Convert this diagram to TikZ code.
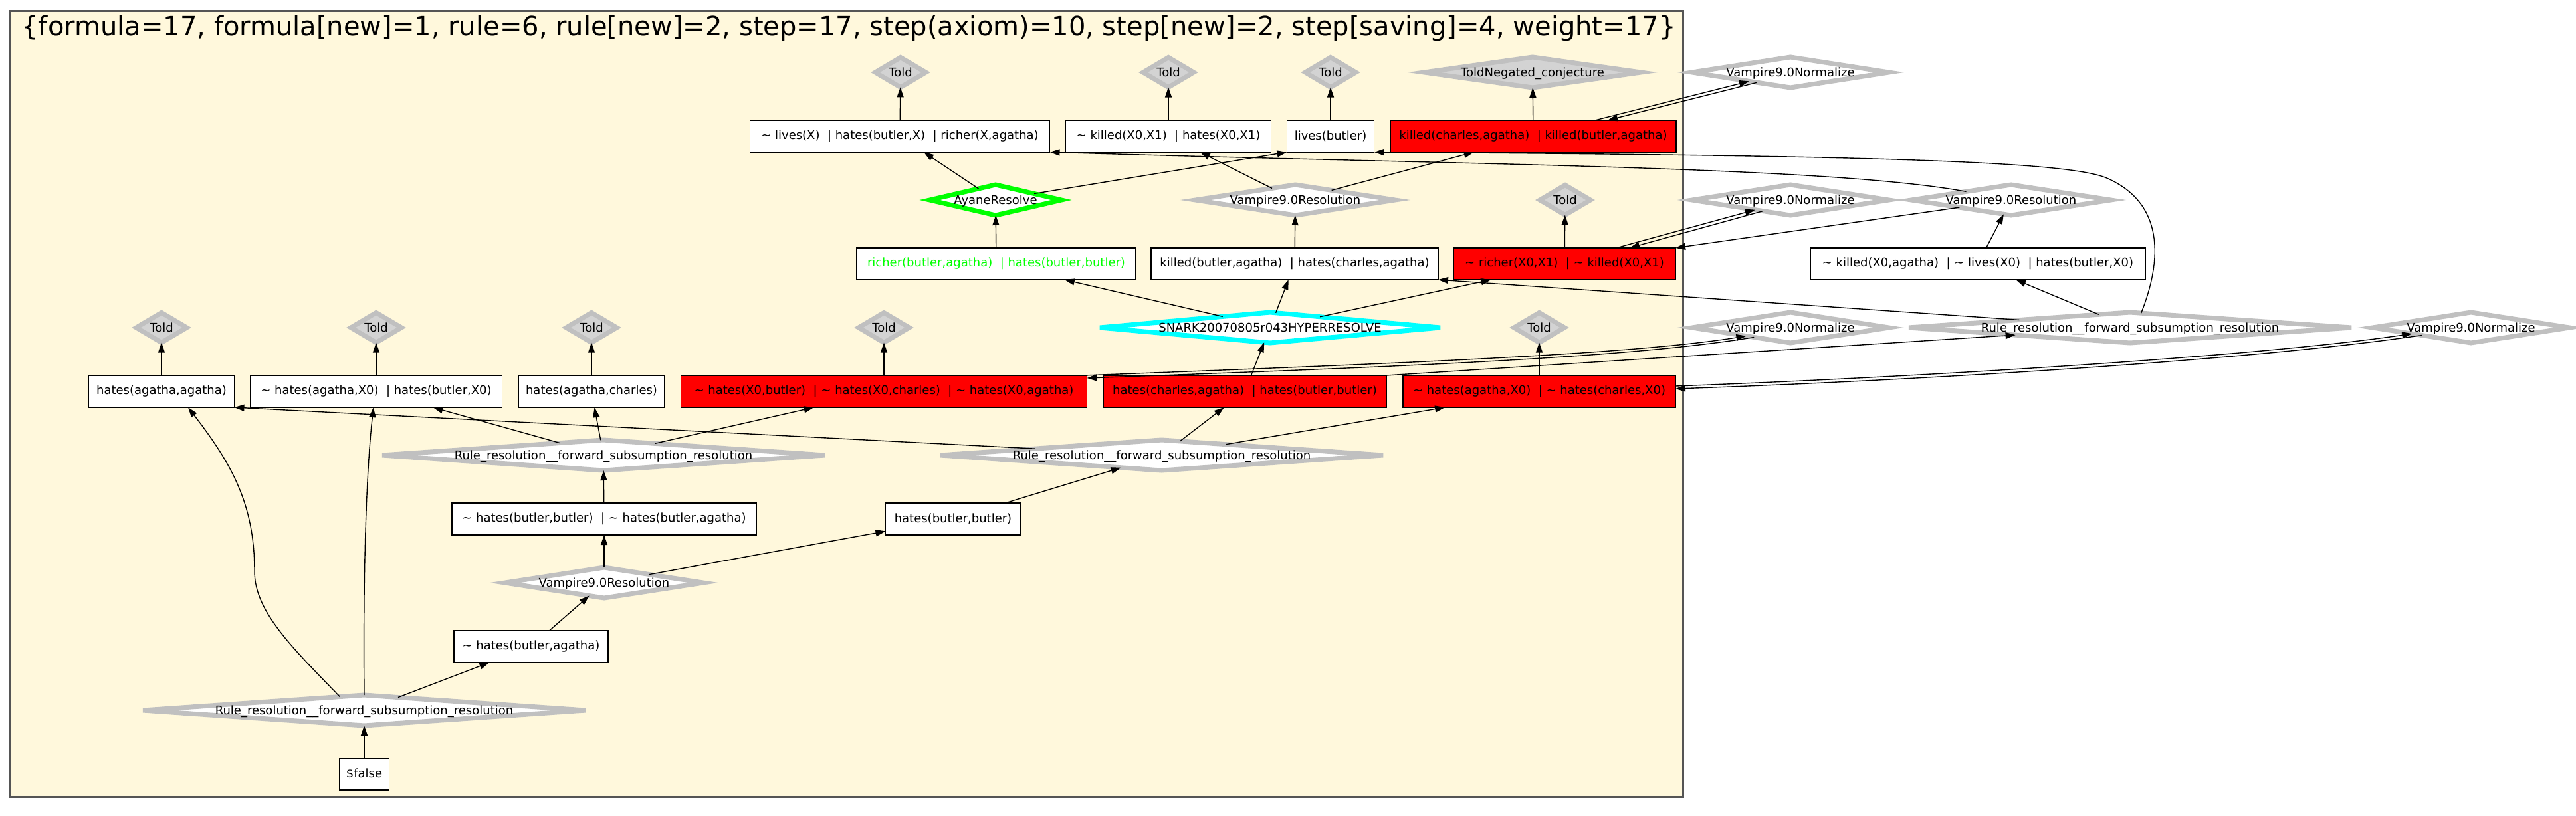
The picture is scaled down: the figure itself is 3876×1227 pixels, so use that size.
\documentclass[tikz,border=0pt]{standalone}
\usepackage{fontspec}
\newfontfamily\dvs{DejaVu Sans}
\usetikzlibrary{shapes.geometric,arrows.meta,calc}
\definecolor{cornsilk}{HTML}{FFF8DC}
\definecolor{silv}{HTML}{C0C0C0}
\definecolor{lgray}{HTML}{D3D3D3}
\definecolor{limec}{HTML}{00FF00}
\definecolor{aquac}{HTML}{00FFFF}
\definecolor{bred}{HTML}{FF0000}
\definecolor{framec}{HTML}{555555}
\newcommand{\tld}{\textasciitilde{}}
\newcommand{\bsep}{\ \ |\ }
\newcommand{\dtext}[1]{\makebox[0pt]{\raisebox{-0.36em}[0pt][0pt]{#1}}}
\tikzset{
  lbl/.style={font=\dvs\fontsize{18}{21}\selectfont},
  dia/.style={shape=diamond, draw=silv, line width=7pt, fill=white, inner sep=0pt, outer sep=0pt, lbl, minimum height=46},
  told/.style={dia, fill=lgray, minimum width=76, minimum height=45},
  nrm/.style={dia, minimum width=296},
  vres/.style={dia, minimum width=300},
  rres/.style={dia, minimum width=666},
  cbox/.style={rectangle, draw=black, line width=1.3pt, fill=white, minimum height=48, inner xsep=5pt, inner ysep=0pt, outer sep=0pt, lbl},
  rbox/.style={cbox, fill=bred},
  arr/.style={line width=1.4pt, -{Triangle[length=15pt,width=10pt]}},
}
\begin{document}
\begin{tikzpicture}[x=1pt,y=-1pt]
\useasboundingbox (0,0) rectangle (3876,1227);
\fill[white] (0,0) rectangle (3876,1227);
\draw[framec, line width=3pt, fill=cornsilk] (15,16) rectangle (2532,1199);
\node[font=\dvs\fontsize{40}{48}\selectfont, anchor=base] (title) at (1277,53) {\{formula=17, formula[new]=1, rule=6, rule[new]=2, step=17, step(axiom)=10, step[new]=2, step[saving]=4, weight=17\}};

% diamonds
\node[told] (t1) at (1355,109) {\dtext{Told}};
\node[told] (t2) at (1758,109) {\dtext{Told}};
\node[told] (t3) at (2002,109) {\dtext{Told}};
\node[told, minimum width=326, minimum height=46] (tn) at (2306,109) {\dtext{ToldNegated\_conjecture}};
\node[nrm] (nm1) at (2694,109) {\dtext{Vampire9.0Normalize}};
\node[dia, draw=limec, minimum width=198] (ayane) at (1498,301) {\dtext{AyaneResolve}};
\node[vres] (vr1) at (1949,301) {\dtext{Vampire9.0Resolution}};
\node[told] (t4) at (2355,301) {\dtext{Told}};
\node[nrm] (nm2) at (2694,301) {\dtext{Vampire9.0Normalize}};
\node[vres] (vr2) at (3026,301) {\dtext{Vampire9.0Resolution}};
\node[told] (t5) at (243,493) {\dtext{Told}};
\node[told] (t6) at (566,493) {\dtext{Told}};
\node[told] (t7) at (890,493) {\dtext{Told}};
\node[told] (t8) at (1330,493) {\dtext{Told}};
\node[dia, draw=aquac, minimum width=512] (snark) at (1911,493) {\dtext{SNARK20070805r043HYPERRESOLVE}};
\node[told] (t9) at (2316,493) {\dtext{Told}};
\node[nrm] (nm3) at (2694,493) {\dtext{Vampire9.0Normalize}};
\node[rres] (rr1) at (3205,493) {\dtext{Rule\_resolution\_\_forward\_subsumption\_resolution}};
\node[nrm] (nm4) at (3718,493) {\dtext{Vampire9.0Normalize}};
\node[rres] (rr2) at (908,685) {\dtext{Rule\_resolution\_\_forward\_subsumption\_resolution}};
\node[rres] (rr3) at (1748,685) {\dtext{Rule\_resolution\_\_forward\_subsumption\_resolution}};
\node[vres, minimum width=298] (vr3) at (909,877) {\dtext{Vampire9.0Resolution}};
\node[rres] (rr4) at (548,1069) {\dtext{Rule\_resolution\_\_forward\_subsumption\_resolution}};

% boxes
\node[cbox, minimum width=451] (b1) at (1354,205) {\tld\ lives(X)\bsep hates(butler,X)\bsep richer(X,agatha)};
\node[cbox, minimum width=309] (b2) at (1758,205) {\tld\ killed(X0,X1)\bsep hates(X0,X1)};
\node[cbox, minimum width=131] (b3) at (2002,205) {lives(butler)};
\node[rbox, minimum width=430] (b4) at (2307,205) {killed(charles,agatha)\bsep killed(butler,agatha)};
\node[cbox, minimum width=420, text=limec] (b5) at (1499,397) {richer(butler,agatha)\bsep hates(butler,butler)};
\node[cbox, minimum width=432] (b6) at (1948,397) {killed(butler,agatha)\bsep hates(charles,agatha)};
\node[rbox, minimum width=334] (b7) at (2354,397) {\tld\ richer(X0,X1)\bsep \tld\ killed(X0,X1)};
\node[cbox, minimum width=504] (b8) at (2976,397) {\tld\ killed(X0,agatha)\bsep \tld\ lives(X0)\bsep hates(butler,X0)};
\node[cbox, minimum width=219] (b9) at (243,589) {hates(agatha,agatha)};
\node[cbox, minimum width=379] (b10) at (566,589) {\tld\ hates(agatha,X0)\bsep hates(butler,X0)};
\node[cbox, minimum width=220] (b11) at (890,589) {hates(agatha,charles)};
\node[rbox, minimum width=611] (b12) at (1330,589) {\tld\ hates(X0,butler)\bsep \tld\ hates(X0,charles)\bsep \tld\ hates(X0,agatha)};
\node[rbox, minimum width=426] (b13) at (1873,589) {hates(charles,agatha)\bsep hates(butler,butler)};
\node[rbox, minimum width=410] (b14) at (2316,589) {\tld\ hates(agatha,X0)\bsep \tld\ hates(charles,X0)};
\node[cbox, minimum width=458] (b15) at (909,781) {\tld\ hates(butler,butler)\bsep \tld\ hates(butler,agatha)};
\node[cbox, minimum width=203] (b16) at (1434,781) {hates(butler,butler)};
\node[cbox, minimum width=232] (b17) at (799,973) {\tld\ hates(butler,agatha)};
\node[cbox, minimum width=75] (b18) at (548,1165) {\$false};

% edges
\draw[arr] (b1) -- (t1);
\draw[arr] (b2) -- (t2);
\draw[arr] (b3) -- (t3);
\draw[arr] (b4) -- (tn);
\draw[arr] ($(b4.north)+(93,0)$) -- ($(nm1.west)!0.58!(nm1.south)$);
\draw[arr] ($(nm1.west)!0.66!(nm1.south)$) -- ($(b4.north)+(112,0)$);
\draw[arr] (ayane) -- (b1);
\draw[arr] (ayane) -- (b3.south west);
\draw[arr] (b5) -- (ayane);
\draw[arr] (vr1) -- (b2);
\draw[arr] (vr1) -- (b4);
\draw[arr] (b6) -- (vr1);
\draw[arr] (b7) -- (t4);
\draw[arr] ($(vr2.west)!0.55!(vr2.north)$) .. controls (2750,250) and (2200,248) .. (b1.south east);
\draw[arr] ($(rr1.north)!0.05!(rr1.east)$) .. controls (3250,400) and (3262,308) .. (3170,268) .. controls (3110,242) and (2800,234) .. (b3.south east);
\draw[arr] (b8) -- (vr2);
\draw[arr] (vr2) -- (b7.north east);
\draw[arr] (rr1) -- (b8);
\draw[arr] (rr1) -- (b6.south east);
\draw[arr] ($(b7.north)+(78,0)$) -- ($(nm2.west)!0.64!(nm2.south)$);
\draw[arr] ($(nm2.west)!0.72!(nm2.south)$) -- ($(b7.north)+(98,0)$);
\draw[arr] (snark) -- (b5);
\draw[arr] (snark) -- (b6);
\draw[arr] (snark) -- (b7);
\draw[arr] (b13) -- (snark);
\draw[arr] (b9) -- (t5);
\draw[arr] (b10) -- (t6);
\draw[arr] (b11) -- (t7);
\draw[arr] (b12) -- (t8);
\draw[arr] (b14) -- (t9);
\draw[arr] (rr3) -- (b9.south east);
\draw[arr] (rr2) -- (b10);
\draw[arr] (rr2) -- (b11);
\draw[arr] (rr2) -- (b12);
\draw[arr] (rr3) -- (b13);
\draw[arr] (rr3) -- (b14);
\draw[arr] (b15) -- (rr2);
\draw[arr] (b16) -- (rr3);
\draw[arr] (b13.north east) -- (rr1);
\draw[arr] ($(b12.north east)+(-4,0)$) .. controls (2100,547) and (2450,534) .. ($(nm3.west)!0.55!(nm3.south)$);
\draw[arr] ($(nm3.west)!0.63!(nm3.south)$) .. controls (2450,539) and (2100,552) .. ($(b12.north east)+(0,4)$);
\draw[arr] ($(b14.east)+(0,-8)$) .. controls (2900,567) and (3400,536) .. ($(nm4.west)!0.4!(nm4.south)$);
\draw[arr] ($(nm4.west)!0.5!(nm4.south)$) .. controls (3400,541) and (2900,572) .. ($(b14.east)+(0,-4)$);
\draw[arr] (vr3) -- (b15);
\draw[arr] (vr3) -- (b16);
\draw[arr] (b17) -- (vr3);
\draw[arr] (rr4) -- (b17);
\draw[arr] (b18) -- (rr4);
\draw[arr] ($(rr4.north)!0.11!(rr4.west)$) .. controls (440,975) and (383,920) .. (383,860) .. controls (383,760) and (350,700) .. ($(b9.south)+(40,0)$);
\draw[arr] (rr4.north) .. controls (546,850) and (552,700) .. ($(b10.south)+(-4,0)$);
\end{tikzpicture}
\end{document}
